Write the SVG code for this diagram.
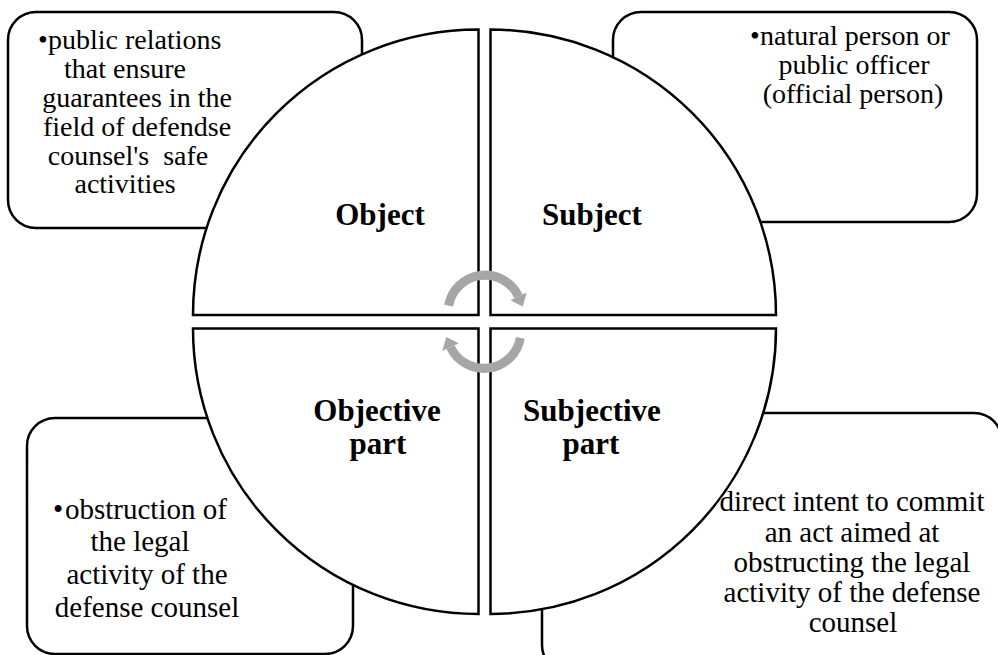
<svg xmlns="http://www.w3.org/2000/svg" width="998" height="655" viewBox="0 0 998 655">
<defs>
<style>
.box{fill:#fff;stroke:#000;stroke-width:2.5}
.q{fill:#fff;stroke:#000;stroke-width:2.5;stroke-linejoin:miter}
.t{font-family:"Liberation Serif","Times New Roman",serif;font-size:28px;fill:#000}
.t29{font-size:29px}
.tm{text-anchor:middle}
.b{font-family:"Liberation Serif","Times New Roman",serif;font-size:31px;font-weight:bold;fill:#000;text-anchor:middle}
.arc{fill:none;stroke:#a6a6a6;stroke-width:9}
.head{fill:#a6a6a6}
</style>
</defs>
<rect width="998" height="655" fill="#fff"/>

<g id="box-object">
<rect class="box" x="8" y="12" width="354" height="216" rx="28"/>
<text class="t"><tspan x="38" y="49">•</tspan><tspan x="48" y="49">public relations</tspan></text>
<text class="t tm" x="125" y="78">that ensure</text>
<text class="t tm" x="137" y="107">guarantees in the</text>
<text class="t tm" x="137" y="136">field of defendse</text>
<text class="t tm" x="128" y="165" xml:space="preserve">counsel's  safe</text>
<text class="t tm" x="125" y="193">activities</text>
</g>

<g id="box-subject">
<rect class="box" x="613" y="12" width="364" height="210" rx="28"/>
<text class="t"><tspan x="750" y="45">•</tspan><tspan x="760" y="45">natural person or</tspan></text>
<text class="t tm" x="854" y="74">public officer</text>
<text class="t tm" x="853" y="103">(official person)</text>
</g>

<g id="box-objective">
<rect class="box" x="27" y="418" width="326" height="236" rx="28"/>
<text class="t t29"><tspan x="53" y="519">•</tspan><tspan x="65" y="519">obstruction of</tspan></text>
<text class="t t29 tm" x="140" y="551">the legal</text>
<text class="t t29 tm" x="147" y="584">activity of the</text>
<text class="t t29 tm" x="147" y="617">defense counsel</text>
</g>

<g id="box-subjective">
<rect class="box" x="542" y="413" width="460" height="260" rx="28"/>
<text class="t t29 tm" x="852" y="511">direct intent to commit</text>
<text class="t t29 tm" x="852" y="542">an act aimed at</text>
<text class="t t29 tm" x="852" y="572">obstructing the legal</text>
<text class="t t29 tm" x="852" y="602">activity of the defense</text>
<text class="t t29 tm" x="853" y="632">counsel</text>
</g>

<g id="q-object">
<path class="q" d="M478.5,315 L193,315 A285.5,285.5 0 0 1 478.5,29.5 Z"/>
<text class="b" x="380" y="225">Object</text>
</g>
<g id="q-subject">
<path class="q" d="M490.5,315 L490.5,29.5 A285.5,285.5 0 0 1 776,315 Z"/>
<text class="b" x="592" y="225">Subject</text>
</g>
<g id="q-objective">
<path class="q" d="M478.5,328.5 L478.5,614 A285.5,285.5 0 0 1 193,328.5 Z"/>
<text class="b" x="377" y="421">Objective</text>
<text class="b" x="378" y="454">part</text>
</g>
<g id="q-subjective">
<path class="q" d="M490.5,328.5 L776,328.5 A285.5,285.5 0 0 1 490.5,614 Z"/>
<text class="b" x="592" y="421">Subjective</text>
<text class="b" x="591" y="454">part</text>
</g>

<g id="connectors">
<g id="arrow-top">
<path class="arc" d="M448.6,305.6 A37,37 0 0 1 518.5,296.4"/>
<polygon class="head" points="526.7,292.6 510.3,300.2 522.7,306.5"/>
</g>
<g id="arrow-bottom" transform="rotate(180 484.5 321.75)">
<path class="arc" d="M448.6,305.6 A37,37 0 0 1 518.5,296.4"/>
<polygon class="head" points="526.7,292.6 510.3,300.2 522.7,306.5"/>
</g>
</g>
</svg>
